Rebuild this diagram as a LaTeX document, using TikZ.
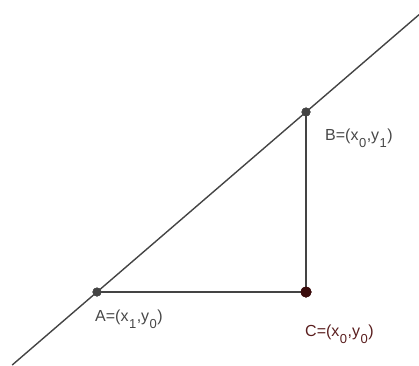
\documentclass[tikz,border=0pt]{standalone}
\usepackage{fontspec}
\setmainfont{Liberation Sans}
\newcommand\lowsub[1]{\kern0.5pt\raisebox{-7.5pt}{\fontsize{13}{14}\selectfont #1}\kern0.5pt}
\definecolor{lineg}{HTML}{444444}
\definecolor{ptC}{HTML}{3A0C0C}
\definecolor{labC}{HTML}{5A1E1E}
\begin{document}
\begin{tikzpicture}[x=1pt,y=-1pt,
  seg/.style={draw=lineg,line width=1.4pt},
  pt/.style={circle,fill=lineg,draw=black!70,line width=0.4pt,inner sep=0pt,minimum size=8.5pt},
  ptc/.style={pt,fill=ptC,draw=ptC,minimum size=10.5pt},
  lab/.style={anchor=base west,font=\fontsize{16}{18}\selectfont,text=black!72,inner sep=0pt}]
\useasboundingbox (0,0) rectangle (419,365);
\coordinate (L0) at (12.2,365);
\coordinate (L1) at (419,14.7);
\node[pt] (A) at (97,292) {};
\node[pt] (B) at (306,112) {};
\node[ptc] (C) at (306,292) {};
\draw[seg] (L0) -- (L1);
\draw[seg] (A.center) -- (C.center);
\draw[seg] (B.center) -- (C.center);
\node[pt] at (A) {};
\node[pt] at (B) {};
\node[ptc] at (C) {};
\node[lab] (la) at (95,321) {A=(x\lowsub{1},y\lowsub{0})};
\node[lab] (lb) at (325,140) {B=(x\lowsub{0},y\lowsub{1})};
\node[lab,text=labC] (lc) at (305,336) {C=(x\lowsub{0},y\lowsub{0})};
\end{tikzpicture}
\end{document}
